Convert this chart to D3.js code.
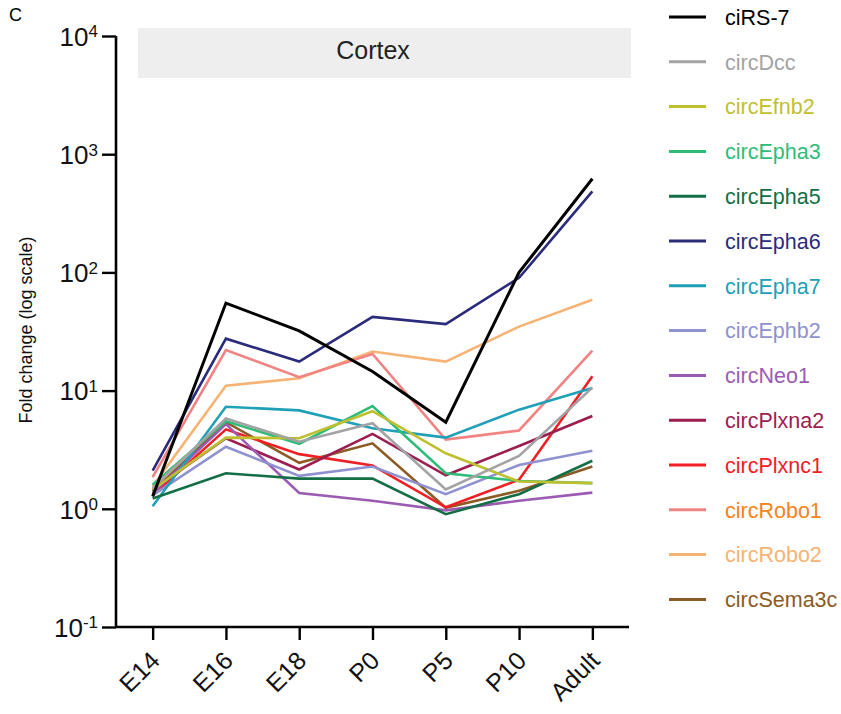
<!DOCTYPE html>
<html>
<head>
<meta charset="utf-8">
<script src="https://cdn.jsdelivr.net/npm/d3@7"></script>
<style>
  body { margin: 0; background: #fff; }
  svg { display: block; font-family: "Liberation Sans", Arial, sans-serif; }
</style>
</head>
<body>
<svg id="chart" width="841" height="714"></svg>
<script>
// Developmental stages on the x axis
const stages = ["E14", "E16", "E18", "P0", "P5", "P10", "Adult"];

// Fold change per circRNA across stages
const ciRS7      = [1.27, 55, 32, 14.5, 5.4, 100, 620];
const circDcc    = [1.5, 5.8, 3.7, 5.3, 1.46, 2.8, 10.6];
const circEfnb2  = [1.45, 4.0, 3.95, 6.7, 2.95, 1.7, 1.65];
const circEpha3  = [1.6, 5.5, 3.55, 7.4, 2.0, 1.72, 1.65];
const circEpha5  = [1.22, 2.0, 1.8, 1.8, 0.9, 1.33, 2.55];
const circEpha6  = [2.1, 27.5, 17.6, 42, 36.5, 90, 485];
const circEpha7  = [1.05, 7.3, 6.8, 4.8, 4.0, 6.9, 10.5];
const circEphb2  = [1.3, 3.35, 1.9, 2.28, 1.33, 2.35, 3.1];
const circNeo1   = [1.35, 5.2, 1.36, 1.17, 0.97, 1.17, 1.37];
const circPlxna2 = [1.45, 3.95, 2.15, 4.3, 1.92, 3.4, 6.1];
const circPlxnc1 = [1.3, 4.7, 2.9, 2.33, 1.03, 1.76, 13.2];
const circRobo1  = [1.85, 22, 13, 20.4, 3.85, 4.6, 21.8];
const circRobo2  = [1.55, 11, 12.7, 21.4, 17.6, 34.8, 58.6];
const circSema3c = [1.4, 5.4, 2.45, 3.58, 1.02, 1.42, 2.28];

const seriesNames = ["ciRS-7", "circDcc", "circEfnb2", "circEpha3", "circEpha5", "circEpha6",
  "circEpha7", "circEphb2", "circNeo1", "circPlxna2", "circPlxnc1", "circRobo1", "circRobo2", "circSema3c"];
const seriesValues = [ciRS7, circDcc, circEfnb2, circEpha3, circEpha5, circEpha6,
  circEpha7, circEphb2, circNeo1, circPlxna2, circPlxnc1, circRobo1, circRobo2, circSema3c];
const lineColors = ["#000000", "#a3a3a3", "#bfbf2f", "#2fbc78", "#136e45", "#2b2b7c",
  "#20a0b8", "#8f91d0", "#9b5bb3", "#9c1d50", "#ee2024", "#f28383", "#f6b374", "#8c5a24"];
const labelColors = ["#000000", "#a3a3a3", "#bfbf2f", "#2fbc78", "#136e45", "#2b2b7c",
  "#20a0b8", "#8f91d0", "#9b5bb3", "#9c1d50", "#ee2024", "#f58220", "#f6b374", "#8c5a24"];

const yTickExponents = [-1, 0, 1, 2, 3, 4];

const svg = d3.select("#chart");

const x = d3.scalePoint().domain(stages).range([116, 629]).padding(0.5);
const y = d3.scaleLog().domain([0.1, 10000]).range([627, 36]);

// Panel letter
svg.append("text").attr("x", 9).attr("y", 21).attr("font-size", 18).text("C");

// Header band
svg.append("rect").attr("x", 138).attr("y", 28).attr("width", 493).attr("height", 50)
  .attr("fill", "#eeeeee");
svg.append("text").attr("x", 373).attr("y", 59).attr("text-anchor", "middle")
  .attr("font-size", 25).attr("fill", "#222").text("Cortex");

// Y axis
const yAxis = svg.append("g").attr("transform", "translate(116,0)")
  .call(d3.axisLeft(y).tickValues(yTickExponents.map(e => Math.pow(10, e)))
    .tickSize(14).tickFormat(() => ""));
yAxis.select(".domain").attr("stroke-width", 2.6).attr("d", `M0,${y(10000)}V${y(0.1)}`);
yAxis.selectAll(".tick line").attr("stroke-width", 2.4);
yAxis.selectAll(".tick").each(function(d, i) {
  const t = d3.select(this).append("text")
    .attr("x", -18).attr("dy", "0.36em").attr("text-anchor", "end")
    .attr("fill", "#111").attr("font-size", 26);
  t.append("tspan").text("10");
  t.append("tspan").attr("dy", "-0.5em").attr("font-size", 17).text(yTickExponents[i]);
});

// X axis
const xAxis = svg.append("g").attr("transform", "translate(0,627)")
  .call(d3.axisBottom(x).tickSize(13).tickSizeOuter(0).tickPadding(6));
xAxis.select(".domain").attr("stroke-width", 2.6).attr("d", "M116,0H629");
xAxis.selectAll(".tick line").attr("stroke-width", 2.4);
xAxis.selectAll(".tick text")
  .attr("font-size", 25).attr("fill", "#111")
  .attr("text-anchor", "end")
  .attr("dy", "0.35em")
  .attr("transform", "translate(2,29) rotate(-45)")
  .attr("x", 0).attr("y", 0);

// Y axis title
svg.append("text")
  .attr("transform", "translate(32,330) rotate(-90)")
  .attr("text-anchor", "middle").attr("font-size", 18).attr("fill", "#111")
  .text("Fold change (log scale)");

// Series lines
const line = d3.line().x((d, i) => x(stages[i])).y(d => y(d));
const order = d3.range(seriesNames.length).reverse();
svg.append("g").selectAll("path").data(order).join("path")
  .attr("d", i => line(seriesValues[i]))
  .attr("fill", "none")
  .attr("stroke", i => lineColors[i])
  .attr("stroke-width", i => i === 0 ? 3 : 2.6)
  .attr("stroke-linejoin", "miter");

// Legend
const legend = svg.append("g");
const rowY = i => 17 + i * 44.8;
legend.selectAll("line").data(seriesNames).join("line")
  .attr("x1", 669).attr("x2", 706)
  .attr("y1", (d, i) => rowY(i)).attr("y2", (d, i) => rowY(i))
  .attr("stroke", (d, i) => lineColors[i]).attr("stroke-width", 3);
legend.selectAll("text").data(seriesNames).join("text")
  .attr("x", 725).attr("y", (d, i) => rowY(i)).attr("dy", "0.36em")
  .attr("font-size", 21.5).attr("fill", (d, i) => labelColors[i])
  .text(d => d);
</script>
</body>
</html>
